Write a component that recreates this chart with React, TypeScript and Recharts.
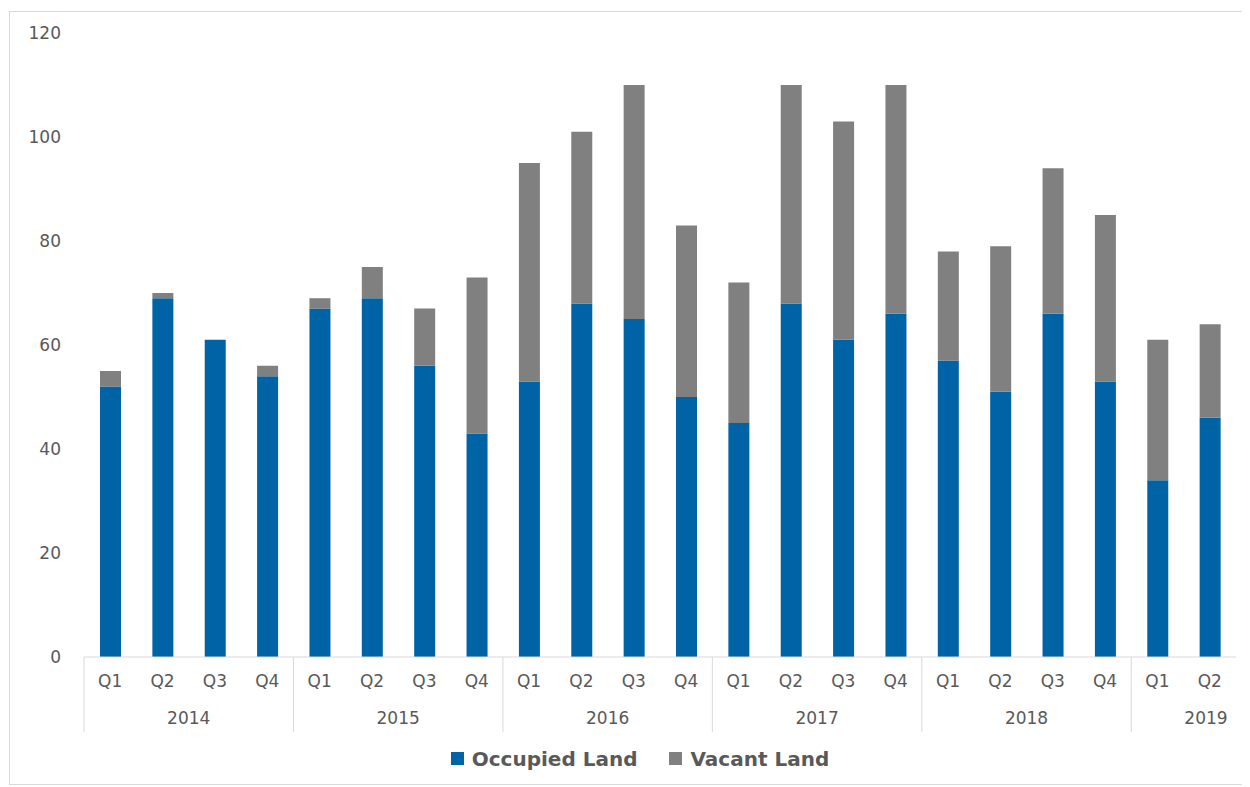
import React from 'react';
import { BarChart, Bar, XAxis, YAxis, Legend } from 'recharts';

// Quarterly land figures, 2014 Q1 – 2019 Q2
const yearLabels = [
  '2014', '2014', '2014', '2014',
  '2015', '2015', '2015', '2015',
  '2016', '2016', '2016', '2016',
  '2017', '2017', '2017', '2017',
  '2018', '2018', '2018', '2018',
  '2019', '2019',
];
const quarterLabels = [
  'Q1', 'Q2', 'Q3', 'Q4',
  'Q1', 'Q2', 'Q3', 'Q4',
  'Q1', 'Q2', 'Q3', 'Q4',
  'Q1', 'Q2', 'Q3', 'Q4',
  'Q1', 'Q2', 'Q3', 'Q4',
  'Q1', 'Q2',
];
const occupiedLand = [52, 69, 61, 54, 67, 69, 56, 43, 53, 68, 65, 50, 45, 68, 61, 66, 57, 51, 66, 53, 34, 46];
const vacantLand = [3, 1, 0, 2, 2, 6, 11, 30, 42, 33, 45, 33, 27, 42, 42, 44, 21, 28, 28, 32, 27, 18];
const yTicks = [0, 20, 40, 60, 80, 100, 120];

const data = quarterLabels.map((q, i) => ({
  q,
  year: yearLabels[i],
  occupied: occupiedLand[i],
  vacant: vacantLand[i],
}));

const FONT = '"DejaVu Sans", sans-serif';
const TEXT = '#595959';
const AXIS = '#d9d9d9';
const BLUE = '#0063a6';
const GREY = '#808080';

// Year row of the two-level category axis: separators between years and a
// label per year group.
const YearTick = (props: any) => {
  const { x, y, payload, width } = props;
  const i: number = payload.index;
  const n = data.length;
  const step = (width ?? 0) / n;
  const isFirst = i === 0 || yearLabels[i - 1] !== yearLabels[i];
  if (!isFirst) return <g />;
  let count = 0;
  while (i + count < n && yearLabels[i + count] === yearLabels[i]) count++;
  const left = x - step / 2;
  let cx = left + (step * Math.max(count, 4)) / 2;
  const rightEdge = x - step / 2 - i * step + n * step;
  const half = 22;
  if (cx + half > rightEdge - 8) cx = rightEdge - 8 - half;
  return (
    <g>
      <line x1={left} x2={left} y1={y - 36} y2={y + 39} stroke={AXIS} strokeWidth={1} />
      <text
        x={cx}
        y={y + 25}
        textAnchor="middle"
        dominantBaseline="central"
        fill={TEXT}
        fontSize={17}
        fontFamily={FONT}
      >
        {payload.value}
      </text>
    </g>
  );
};

const LegendContent = () => (
  <div
    style={{
      height: 51,
      display: 'flex',
      justifyContent: 'center',
      alignItems: 'center',
      paddingLeft: 34,
      fontFamily: FONT,
      fontWeight: 700,
      fontSize: 20,
      color: TEXT,
    }}
  >
    {[
      { label: 'Occupied Land', color: BLUE },
      { label: 'Vacant Land', color: GREY },
    ].map((item, k) => (
      <div key={item.label} style={{ display: 'flex', alignItems: 'center', marginLeft: k ? 32 : 0 }}>
        <span style={{ width: 13, height: 13, background: item.color, marginRight: 8, display: 'inline-block' }} />
        <span>{item.label}</span>
      </div>
    ))}
  </div>
);

export default function App() {
  return (
    <div
      style={{
        width: 1240,
        height: 772,
        marginLeft: 1,
        marginTop: 3,
        border: `1px solid ${AXIS}`,
        background: '#fff',
      }}
    >
      <BarChart
        width={1240}
        height={772}
        data={data}
        margin={{ top: 21, right: 14, bottom: 0, left: 0 }}
        barSize={21}
      >
        <YAxis
          domain={[0, 120]}
          ticks={yTicks}
          axisLine={false}
          tickLine={false}
          tickSize={0}
          tickMargin={23}
          width={74}
          tick={{ fill: TEXT, fontSize: 17, fontFamily: FONT }}
        />
        <XAxis
          dataKey="q"
          interval={0}
          height={36}
          axisLine={{ stroke: AXIS }}
          tickLine={false}
          tickSize={0}
          tickMargin={18}
          tick={{ fill: TEXT, fontSize: 17, fontFamily: FONT }}
        />
        <XAxis
          xAxisId="year"
          dataKey="year"
          interval={0}
          height={40}
          axisLine={false}
          tickLine={false}
          tickSize={0}
          tickMargin={0}
          tick={<YearTick />}
        />
        <Legend verticalAlign="bottom" content={<LegendContent />} />
        <Bar dataKey="occupied" name="Occupied Land" stackId="land" fill={BLUE} isAnimationActive={false} />
        <Bar dataKey="vacant" name="Vacant Land" stackId="land" fill={GREY} isAnimationActive={false} />
      </BarChart>
    </div>
  );
}
